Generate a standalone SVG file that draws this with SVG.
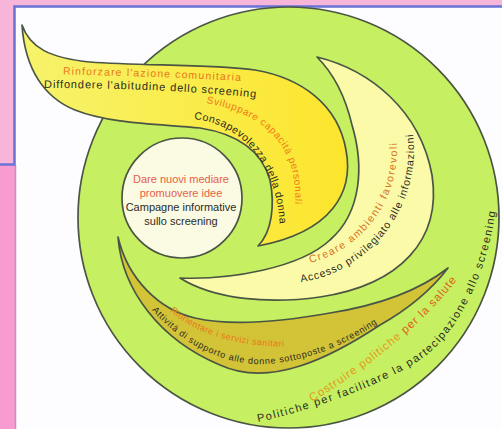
<svg xmlns="http://www.w3.org/2000/svg" width="502" height="429" viewBox="0 0 502 429">
<defs>
<style>
.edge{stroke:#4a5544;stroke-width:1.7;stroke-linejoin:round}
.t{font-family:"Liberation Sans",Arial,sans-serif}
.or{fill:#e8781a}
.dk{fill:#2b2b1f}
.rd{fill:#e8604a}
</style>
<linearGradient id="gy" x1="0" y1="0" x2="1" y2="0">
<stop offset="0" stop-color="#f6f36c"/>
<stop offset="1" stop-color="#fde52c"/>
</linearGradient>
<path id="pRin" d="M63,74.5 Q150,76 241,81"/>
<path id="pDif" d="M44,88 Q170,88 258,98"/>
<path id="pSvi" d="M206,103 C268,114 302,150 294,214"/>
<path id="pCon" d="M194,119 C240,124 280,162 280,236"/>
<path id="pCre" d="M310.3,263 A117,117 0 0 0 396.6,139.8"/>
<path id="pAcc" d="M301,282.3 A134,134 0 0 0 411.5,124.4"/>
<path id="pRio" d="M170,311 C195,333 232,346 290,347"/>
<path id="pAtt" d="M152,310 C182,344 225,366 265,364 C305,362 348,345 385,318"/>
<path id="pCos" d="M312,402 Q410,342 460,276"/>
<path id="pPol" d="M258,422 C302,413 390,384 428,354 C461,326 489,270 496,205"/>
</defs>
<rect width="502" height="429" fill="#fdfcfe"/>
<rect x="0" y="0" width="502" height="6" fill="#f6b5d9"/>
<rect x="0" y="0" width="14" height="164" fill="#f6b5d9"/>
<rect x="0" y="165" width="15" height="264" fill="#f79bd0"/>
<line x1="15.5" y1="165" x2="15.5" y2="429" stroke="#c58ccf" stroke-width="1.5"/>
<path d="M0,164.5 H14.5 V6.5 H502" fill="none" stroke="#6b72d6" stroke-width="2.5"/>

<g id="outer-circle">
<circle class="edge" cx="288.5" cy="217.5" r="210.5" fill="#c6ef62"/>
<text class="t dk" font-size="11"><textPath href="#pPol" textLength="345">Politiche per facilitare la partecipazione allo screening</textPath></text>
<text class="t" font-size="11.5"><textPath href="#pCos" textLength="190"><tspan fill="#e49a1a">Costruire politiche</tspan><tspan fill="#e0601e"> per la salute</tspan></textPath></text>
</g>

<g id="olive-band">
<path class="edge" fill="#d3c337" d="M118,237 C122,290 160,340 220,365 C270,388 330,358 380,325 C412,307 435,285 448,268 C420,290 380,305 330,313 C280,322 230,326 195,318 C160,310 128,280 118,237 Z"/>
<text class="t or" font-size="9"><textPath href="#pRio" textLength="122">Riorientare i servizi sanitari</textPath></text>
<text class="t dk" font-size="9"><textPath href="#pAtt" textLength="250">Attività di supporto alle donne sottoposte a screening</textPath></text>
</g>

<g id="light-yellow-band">
<path class="edge" fill="#fafaa8" d="M317,57 C370,70 420,110 432,175 C442,240 400,285 320,297 C270,304 215,300 180,278 C230,280 300,268 330,240 C362,212 364,165 352,125 C345,95 332,72 317,57 Z"/>
<text class="t" font-size="10.5" fill="#d8741e"><textPath href="#pCre" textLength="160">Creare ambienti favorevoli</textPath></text>
<text class="t dk" font-size="10.5"><textPath href="#pAcc" textLength="205">Accesso privilegiato alle informazioni</textPath></text>
</g>

<g id="yellow-arm">
<path class="edge" fill="url(#gy)" d="M22,25 C30,48 50,58 90,62 C140,66 210,64 255,70 C302,78 338,105 346,150 C354,192 332,232 258,246 C272,232 275,205 270,180 C262,152 238,134 200,128 C160,124 110,124 75,110 C45,98 25,70 22,25 Z"/>
<text class="t or" font-size="10.5"><textPath href="#pRin" textLength="178">Rinforzare l'azione comunitaria</textPath></text>
<text class="t dk" font-size="11"><textPath href="#pDif" textLength="212">Diffondere l'abitudine dello screening</textPath></text>
<text class="t" font-size="10" fill="#f07818"><textPath href="#pSvi" textLength="150">Sviluppare capacità personali</textPath></text>
<text class="t dk" font-size="10.5"><textPath href="#pCon" textLength="148">Consapevolezza della donna</textPath></text>
</g>

<g id="inner-circle">
<circle class="edge" cx="182" cy="198" r="60" fill="#fbfae2"/>
<text class="t rd" font-size="11" text-anchor="middle" x="181" y="182.5">Dare nuovi mediare</text>
<text class="t rd" font-size="11" text-anchor="middle" x="181" y="196.5">promuovere idee</text>
<text class="t dk" font-size="11" text-anchor="middle" x="181" y="210.5">Campagne informative</text>
<text class="t dk" font-size="11" text-anchor="middle" x="181" y="224.5">sullo screening</text>
</g>
</svg>
